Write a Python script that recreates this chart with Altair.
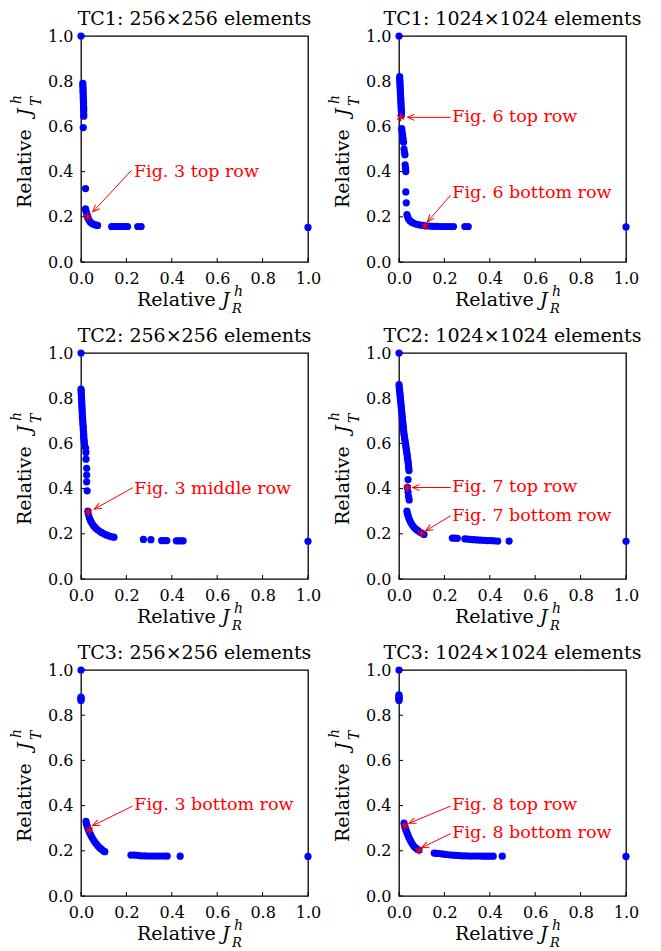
import math
import altair as alt
import pandas as pd

FONT = "DejaVu Serif"
W, H = 227, 226
BLUE = "#0000ff"
RED = "#ff0000"
TICKS = [0.0, 0.2, 0.4, 0.6, 0.8, 1.0]

titles = [
    "TC1: 256×256 elements", "TC1: 1024×1024 elements",
    "TC2: 256×256 elements", "TC2: 1024×1024 elements",
    "TC3: 256×256 elements", "TC3: 1024×1024 elements",
]

# ---------------- data ----------------
tc1_256_x = [0.000, 0.008, 0.008, 0.009, 0.009, 0.009, 0.010, 0.010, 0.010, 0.011, 0.011, 0.011,
             0.012, 0.012, 0.012, 0.012, 0.010, 0.020, 0.020, 0.022, 0.025, 0.028, 0.031, 0.035,
             0.040, 0.047, 0.055, 0.064, 0.073, 0.135, 0.145, 0.155, 0.165, 0.175, 0.185, 0.195,
             0.205, 0.250, 0.265, 1.000]
tc1_256_y = [1.000, 0.790, 0.780, 0.770, 0.760, 0.750, 0.740, 0.730, 0.720, 0.710, 0.700, 0.690,
             0.680, 0.670, 0.655, 0.645, 0.595, 0.325, 0.235, 0.225, 0.214, 0.204, 0.195, 0.186,
             0.178, 0.171, 0.167, 0.164, 0.162, 0.157, 0.157, 0.157, 0.157, 0.157, 0.157, 0.157,
             0.157, 0.157, 0.157, 0.153]

tc1_1024_x = [0.000, 0.003, 0.003, 0.004, 0.004, 0.005, 0.005, 0.006, 0.006, 0.007, 0.007, 0.008,
              0.008, 0.009, 0.009, 0.010, 0.010, 0.011, 0.011, 0.012, 0.014, 0.016, 0.018, 0.020,
              0.022, 0.024, 0.026, 0.027, 0.029, 0.030, 0.030, 0.032, 0.035, 0.038, 0.042, 0.048,
              0.056, 0.066, 0.078, 0.090, 0.105, 0.120, 0.135, 0.150, 0.165, 0.180, 0.195, 0.210,
              0.225, 0.240, 0.290, 0.305, 1.000]
tc1_1024_y = [1.000, 0.820, 0.810, 0.800, 0.790, 0.780, 0.770, 0.760, 0.750, 0.740, 0.730, 0.720,
              0.710, 0.700, 0.690, 0.680, 0.670, 0.660, 0.650, 0.590, 0.575, 0.560, 0.545, 0.530,
              0.500, 0.485, 0.475, 0.430, 0.415, 0.400, 0.310, 0.262, 0.210, 0.200, 0.190, 0.182,
              0.176, 0.171, 0.167, 0.164, 0.162, 0.160, 0.159, 0.158, 0.158, 0.157, 0.157, 0.157,
              0.157, 0.157, 0.157, 0.157, 0.155]

tc2_256_x = [0.000, 0.000, 0.001, 0.001, 0.002, 0.002, 0.003, 0.003, 0.004, 0.004, 0.005, 0.005,
             0.006, 0.006, 0.007, 0.008, 0.008, 0.009, 0.010, 0.010, 0.011, 0.012, 0.012, 0.013,
             0.014, 0.015, 0.020, 0.022, 0.022, 0.025, 0.025, 0.025, 0.027, 0.030, 0.033, 0.037,
             0.042, 0.048, 0.055, 0.063, 0.072, 0.082, 0.092, 0.103, 0.114, 0.125, 0.135, 0.145,
             0.275, 0.308, 0.355, 0.365, 0.378, 0.420, 0.430, 0.440, 0.450, 1.000]
tc2_256_y = [1.000, 0.840, 0.830, 0.820, 0.810, 0.800, 0.790, 0.780, 0.770, 0.760, 0.750, 0.740,
             0.730, 0.720, 0.710, 0.700, 0.690, 0.680, 0.670, 0.660, 0.650, 0.640, 0.630, 0.620,
             0.610, 0.600, 0.580, 0.560, 0.530, 0.490, 0.460, 0.430, 0.390, 0.300, 0.285, 0.270,
             0.258, 0.247, 0.236, 0.227, 0.219, 0.211, 0.205, 0.199, 0.194, 0.190, 0.187, 0.185,
             0.175, 0.174, 0.170, 0.170, 0.170, 0.169, 0.169, 0.169, 0.169, 0.167]

tc2_1024_x = [0.000, 0.000, 0.001, 0.002, 0.003, 0.004, 0.005, 0.006, 0.007, 0.008, 0.009, 0.010,
              0.011, 0.012, 0.013, 0.014, 0.015, 0.016, 0.017, 0.018, 0.019, 0.020, 0.021, 0.022,
              0.024, 0.025, 0.027, 0.028, 0.030, 0.031, 0.033, 0.034, 0.036, 0.037, 0.038, 0.040,
              0.041, 0.042, 0.043, 0.044, 0.040, 0.037, 0.040, 0.042, 0.045, 0.035, 0.037, 0.040,
              0.043, 0.047, 0.052, 0.058, 0.065, 0.073, 0.082, 0.090, 0.100, 0.110, 0.235, 0.245,
              0.257, 0.290, 0.300, 0.315, 0.330, 0.345, 0.360, 0.375, 0.390, 0.405, 0.420, 0.435,
              0.485, 1.000]
tc2_1024_y = [1.000, 0.860, 0.850, 0.840, 0.830, 0.820, 0.810, 0.800, 0.790, 0.780, 0.770, 0.760,
              0.750, 0.740, 0.730, 0.720, 0.710, 0.700, 0.690, 0.680, 0.670, 0.660, 0.650, 0.640,
              0.630, 0.620, 0.610, 0.600, 0.590, 0.580, 0.570, 0.560, 0.550, 0.540, 0.530, 0.520,
              0.510, 0.500, 0.490, 0.480, 0.440, 0.405, 0.385, 0.365, 0.350, 0.300, 0.290, 0.280,
              0.270, 0.260, 0.250, 0.240, 0.230, 0.222, 0.215, 0.209, 0.203, 0.197, 0.181, 0.181,
              0.180, 0.178, 0.177, 0.175, 0.174, 0.173, 0.172, 0.171, 0.170, 0.170, 0.169, 0.168,
              0.168, 0.167]

tc3_256_x = [0.000, 0.000, 0.000, 0.000, 0.000, 0.022, 0.024, 0.027, 0.030, 0.034, 0.038, 0.043,
             0.048, 0.054, 0.060, 0.067, 0.074, 0.082, 0.090, 0.098, 0.105, 0.220, 0.235, 0.250,
             0.265, 0.280, 0.295, 0.310, 0.325, 0.340, 0.355, 0.370, 0.380, 0.437, 1.000]
tc3_256_y = [1.000, 0.880, 0.875, 0.870, 0.865, 0.330, 0.320, 0.310, 0.300, 0.290, 0.280, 0.270,
             0.260, 0.250, 0.240, 0.231, 0.222, 0.214, 0.207, 0.200, 0.196, 0.181, 0.181, 0.180,
             0.178, 0.178, 0.177, 0.177, 0.177, 0.177, 0.177, 0.177, 0.177, 0.176, 0.175]

tc3_1024_x = [0.000, 0.000, 0.000, 0.000, 0.000, 0.000, 0.000, 0.022, 0.025, 0.028, 0.031, 0.035,
              0.039, 0.043, 0.048, 0.053, 0.059, 0.066, 0.073, 0.080, 0.088, 0.155, 0.165, 0.175,
              0.190, 0.205, 0.220, 0.235, 0.250, 0.265, 0.280, 0.295, 0.310, 0.325, 0.340, 0.355,
              0.370, 0.385, 0.400, 0.415, 0.455, 1.000]
tc3_1024_y = [1.000, 0.890, 0.885, 0.880, 0.875, 0.870, 0.865, 0.322, 0.310, 0.300, 0.290, 0.280,
              0.270, 0.260, 0.250, 0.240, 0.230, 0.220, 0.213, 0.208, 0.203, 0.190, 0.189, 0.188,
              0.186, 0.184, 0.182, 0.181, 0.180, 0.179, 0.178, 0.178, 0.177, 0.177, 0.177, 0.177,
              0.176, 0.176, 0.176, 0.176, 0.176, 0.175]

series = [
    (tc1_256_x, tc1_256_y), (tc1_1024_x, tc1_1024_y),
    (tc2_256_x, tc2_256_y), (tc2_1024_x, tc2_1024_y),
    (tc3_256_x, tc3_256_y), (tc3_1024_x, tc3_1024_y),
]

# annotation: label, text x/y, arrow start x/y, arrow tip x/y, star x/y (data units)
ann_labels = [
    ["Fig. 3 top row"],
    ["Fig. 6 top row", "Fig. 6 bottom row"],
    ["Fig. 3 middle row"],
    ["Fig. 7 top row", "Fig. 7 bottom row"],
    ["Fig. 3 bottom row"],
    ["Fig. 8 top row", "Fig. 8 bottom row"],
]
ann_text_xy = [
    [(0.233, 0.400)],
    [(0.235, 0.643), (0.235, 0.304)],
    [(0.235, 0.397)],
    [(0.235, 0.405), (0.235, 0.279)],
    [(0.235, 0.403)],
    [(0.235, 0.403), (0.235, 0.280)],
]
ann_from_xy = [
    [(0.222, 0.405)],
    [(0.228, 0.640), (0.228, 0.296)],
    [(0.228, 0.404)],
    [(0.228, 0.405), (0.228, 0.280)],
    [(0.228, 0.398)],
    [(0.228, 0.398), (0.228, 0.276)],
]
ann_tip_xy = [
    [(0.052, 0.222)],
    [(0.037, 0.640), (0.125, 0.178)],
    [(0.059, 0.309)],
    [(0.059, 0.405), (0.118, 0.213)],
    [(0.051, 0.311)],
    [(0.044, 0.322), (0.100, 0.214)],
]
ann_star_xy = [
    [(0.030, 0.200)],
    [(0.007, 0.640), (0.115, 0.160)],
    [(0.032, 0.296)],
    [(0.037, 0.405), (0.100, 0.203)],
    [(0.037, 0.292)],
    [(0.025, 0.311), (0.088, 0.202)],
]

STAR = "M0,-1L0,1M-0.87,-0.5L0.87,0.5M-0.87,0.5L0.87,-0.5"
HEAD = "M-1,-0.42L0,0L-1,0.42"


def make_panel(i):
    xs = alt.Scale(domain=[0, 1], nice=False, zero=False)
    ys = alt.Scale(domain=[0, 1], nice=False, zero=False)
    common = dict(values=TICKS, format=".1f", title=None, ticks=False, tickSize=0,
                  domain=False, grid=False, labelFont=FONT, labelFontSize=16,
                  labelColor="black", labelPadding=8, labelFlush=False, labelOverlap=False)
    xa = alt.Axis(**common)
    ya = alt.Axis(**common)

    def X(f):
        return alt.X(f"{f}:Q", scale=xs, axis=xa)

    def Y(f):
        return alt.Y(f"{f}:Q", scale=ys, axis=ya)

    px, py = series[i]
    pts = pd.DataFrame({"x": px, "y": py})

    rows = []
    for lab, (tx, ty), (ax, ay), (hx, hy), (sx, sy) in zip(
            ann_labels[i], ann_text_xy[i], ann_from_xy[i], ann_tip_xy[i], ann_star_xy[i]):
        dx = (hx - ax) * W
        dy = -(hy - ay) * H
        ang = math.degrees(math.atan2(dy, dx)) % 360
        rows.append(dict(label=lab, tx=tx, ty=ty, ax=ax, ay=ay, hx=hx, hy=hy,
                         sx=sx, sy=sy, angle=ang))
    ann = pd.DataFrame(rows)
    tick_df = pd.DataFrame({"t": TICKS})
    one = pd.DataFrame({"k": [0]})

    layers = []
    layers.append(alt.Chart(tick_df).mark_rule(color="black", strokeWidth=1).encode(
        x=X("t"), y=alt.value(H), y2=alt.value(H - 4)))
    layers.append(alt.Chart(tick_df).mark_rule(color="black", strokeWidth=1).encode(
        y=Y("t"), x=alt.value(0), x2=alt.value(4)))
    layers.append(alt.Chart(pts).mark_circle(size=52, color=BLUE, opacity=1).encode(
        x=X("x"), y=Y("y")))
    layers.append(alt.Chart(ann).mark_rule(color=RED, strokeWidth=1).encode(
        x=X("ax"), y=Y("ay"), x2="hx:Q", y2="hy:Q"))
    layers.append(alt.Chart(ann).mark_point(shape=HEAD, size=200, filled=False, color=RED,
                                            strokeWidth=1, opacity=1).encode(
        x=X("hx"), y=Y("hy"), angle=alt.Angle("angle:Q", scale=None)))
    layers.append(alt.Chart(ann).mark_point(shape=STAR, size=70, filled=False, color=RED,
                                            strokeWidth=1.2, opacity=1).encode(
        x=X("sx"), y=Y("sy")))
    layers.append(alt.Chart(ann).mark_text(align="left", baseline="middle", font=FONT,
                                           fontSize=17.5, color=RED).encode(
        x=X("tx"), y=Y("ty"), text="label:N"))

    # axis titles: Relative J^h_R (x) and Relative J^h_T (y)
    pieces = [
        ("Relative", 56, H + 44, 19, "normal", 0),
        ("J", 141, H + 44, 19, "italic", 0),
        ("h", 153, H + 34, 14, "italic", 0),
        ("R", 151, H + 51, 13, "italic", 0),
        ("Relative", -50, H - 54, 19, "normal", 270),
        ("J", -50, H - 146, 19, "italic", 270),
        ("h", -60, H - 158, 14, "italic", 270),
        ("T", -40, H - 156, 14, "italic", 270),
    ]
    for txt, x0, y0, fs, style, ang in pieces:
        layers.append(alt.Chart(one).mark_text(
            text=txt, align="left", baseline="alphabetic", font=FONT, fontSize=fs,
            fontStyle=style, angle=ang, color="black").encode(
            x=alt.value(x0), y=alt.value(y0)))

    return alt.layer(*layers).properties(
        width=W, height=H,
        title=alt.Title(titles[i], font=FONT, fontSize=19, fontWeight="normal",
                        color="black", frame="group", anchor="middle", offset=-1))


panels = [make_panel(i) for i in range(6)]
chart = alt.concat(*panels, columns=2, spacing={"row": 9, "column": 5}).properties(
    padding={"left": 1, "top": 1, "right": 0, "bottom": 0}
).configure_view(stroke="black", strokeWidth=1.3)

chart.save("out.html", embed_options={"renderer": "svg", "actions": False})
